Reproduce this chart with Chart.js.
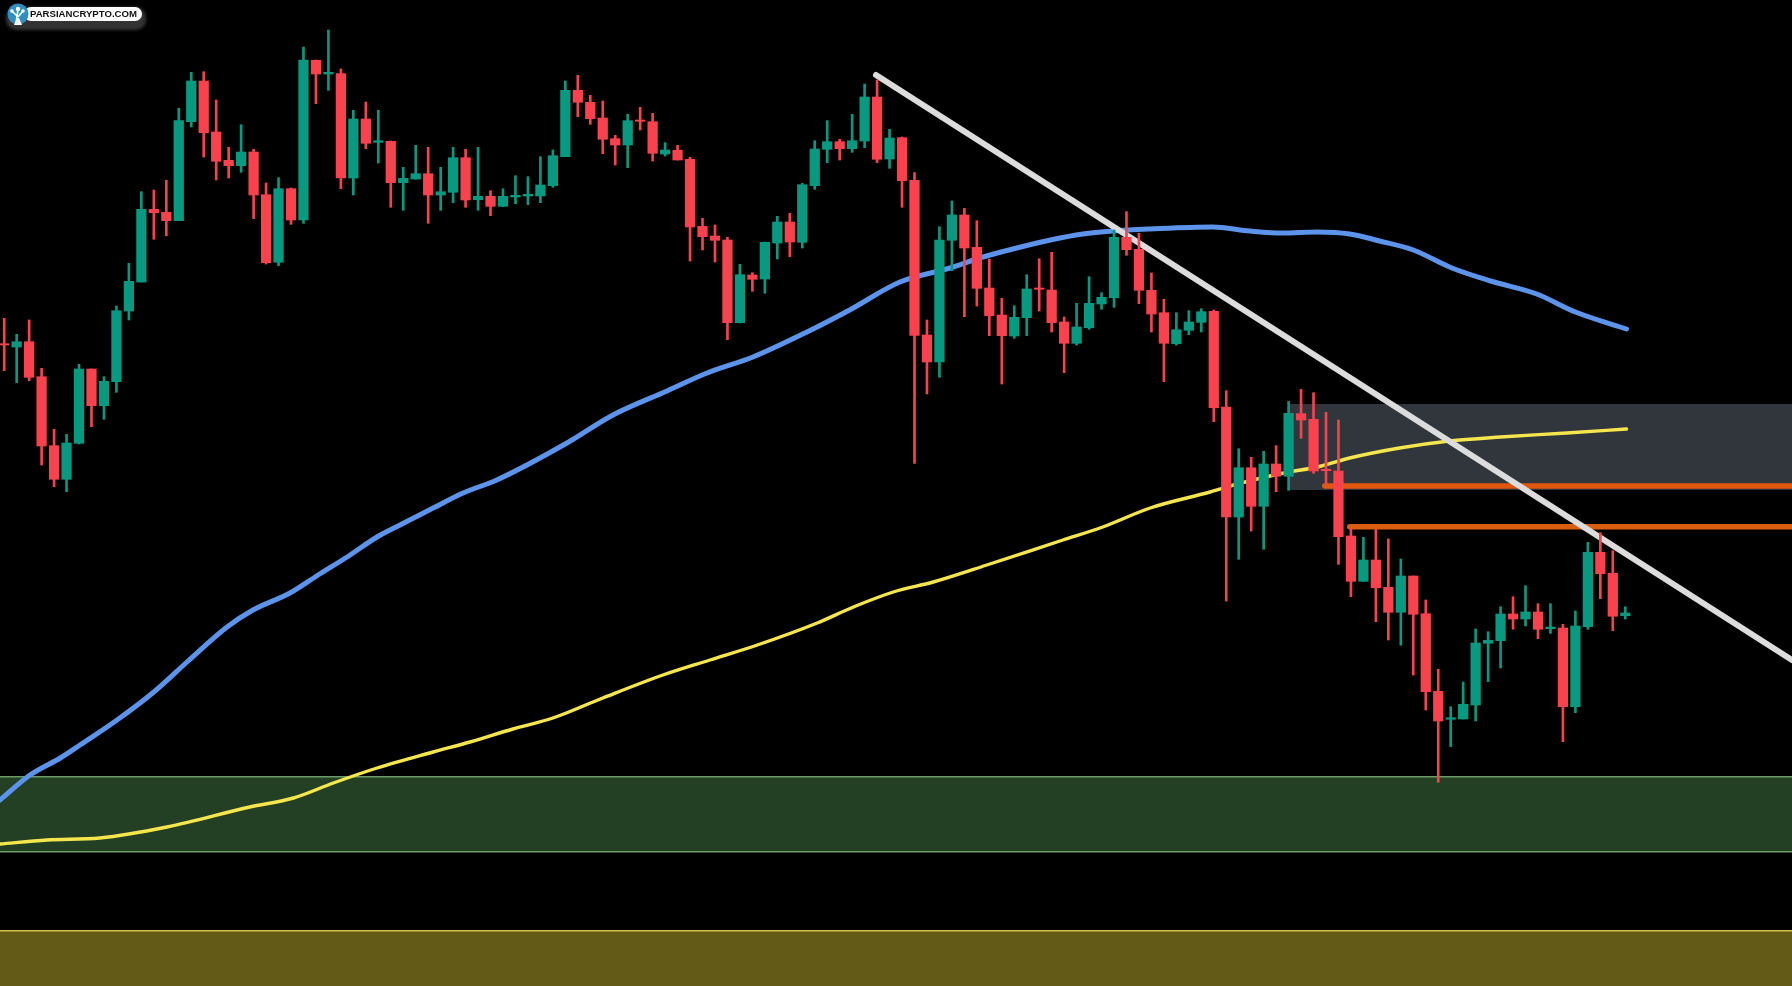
<!DOCTYPE html>
<html>
<head>
<meta charset="utf-8">
<title>Chart</title>
<script src="https://cdn.jsdelivr.net/npm/chart.js@4"></script>
<style>
    html, body { margin: 0; padding: 0; background: #000; overflow: hidden; }
    #wrap { position: relative; width: 1792px; height: 986px; }
    #chart { filter: blur(0.4px); }
    #logo { position: absolute; left: 4px; top: 1px; width: 142px; height: 30px; }
    #logo .shadow { position: absolute; left: 2px; top: 6px; width: 140px; height: 23px; border-radius: 10px; background: #333; filter: blur(1.5px); }
    #logo .pill { position: absolute; left: 20px; top: 6px; width: 118px; height: 14px; border-radius: 7px; background: #fff; color: #111;
        font: 700 9.6px/14px "Liberation Sans", sans-serif; text-indent: 6px; white-space: nowrap; }
    #logo svg { position: absolute; left: 3px; top: 2px; }
</style>
</head>
<body>
<div id="wrap">
    <canvas id="chart" width="1792" height="986"></canvas>
    <div id="logo">
        <div class="shadow"></div>
        <div class="pill">PARSIANCRYPTO.COM</div>
        <svg width="24" height="24" viewBox="0 0 24 24">
            <circle cx="11" cy="11" r="10.5" fill="#2f8fc4"/>
            <path d="M9 21 L10 13 L5 8 M10 13 L11 7 M11 14 L16 8" stroke="#fff" stroke-width="1.6" fill="none"/>
            <path d="M7 22 L15 22 L12 15 L10 15 Z" fill="#fff"/>
            <circle cx="5" cy="8" r="1.8" fill="#fff"/><circle cx="11" cy="6" r="2.2" fill="#fff"/><circle cx="16" cy="8" r="1.8" fill="#fff"/>
        </svg>
    </div>
</div>
<script>
// candle values, one entry per bar (no price axis is shown, units are arbitrary)
const opens = [642.3,639,644.3,609.3,540.3,506.7,542.7,617,580.3,604.3,675,704,776.7,773.7,765.3,864.3,905,854,825.7,820.3,
    834,791.3,723.7,797.3,766,925.7,912,912.3,808,867,843.7,844.7,803.3,807,812.3,791,793.7,828.3,786.3,789.7,
    779.7,789,790,790,800.3,829.3,895.7,883.7,868,847.3,841,866,864.3,832,835.7,826.7,759.7,750,746,663.3,
    711,707,743,764,743.7,800.3,836.7,844.3,837.3,845,889,827,848.3,805.7,651,624,745.7,771,738.7,698,
    671,650,668.3,698,696,664,642.7,658.3,682,688.3,748.7,736.7,695.7,673.3,642.3,655.7,663.7,674.7,579,469,
    518.3,479.7,522,509.7,572.3,566.7,516.7,515,450,404.7,426,398.7,373.7,410,372.3,294.7,266.7,267,281,342.7,
    345.3,372,367,374,357.3,358,279.3,359.3,433.7,412.7,370.3];
const highs = [667.7,651.7,666,617.7,556.7,551.7,621.7,617,609.3,680,722.7,794.3,796,805.7,877.7,913.7,914.3,886,838.7,861.3,
    836.7,803,808.3,798,939,926,956,917,875.7,884,875.7,845,818.7,840.7,838.7,818.7,838.7,836.7,838.7,795.3,
    797.3,810.3,809.3,829.3,836,905,910.7,890.7,885,850.7,871.7,878.7,872.7,843.3,840.7,828.7,767.7,761,748.7,721.7,
    713.3,744,769.7,772.7,802.7,845.3,865.3,846.7,871.7,902,906,856.7,849,813.3,666,759.3,785,777.7,765.3,727,
    687.7,680.3,711.3,727.3,733.7,669,682.7,709.3,693.3,756,774.3,752.7,713,686.7,673.3,675.3,677.3,676,595.3,537.3,
    528.7,534.7,540.3,584.7,596.7,593.3,573.7,566,457.7,448.7,456.7,447,427,410,386,316.7,279.3,304,357,354.3,
    379.3,389.3,400.3,382.3,382.3,361.7,375,443.7,453.3,435.3,379.3];
const lows = [615.3,603.3,605.3,521,499.3,494.3,542,559.3,566.7,593.7,666,704,746.7,750.3,765.3,859,829,806,808,813.7,
    767.3,722,720.3,761.7,762.7,882.3,895.7,797.3,791,837.3,823,778.7,775.7,806.7,762.7,775.7,783.3,778.7,775.7,770.3,
    779.3,782.3,781.3,783.3,798.7,829.3,869.3,861.7,832.3,821,818.3,856,825,830,826,725,736,724,646.3,663,
    694.7,692.7,727,729.3,738,796.7,823.3,826,833.7,838.3,823.3,817.7,778.7,522.7,592,608.7,715.3,669.3,680,650.3,
    602,647.7,650.3,675,654,613.3,641,656.7,676.7,678.7,730.7,682.3,654,604.3,641,651.3,654,564.3,385,426.7,
    455,436.7,494.3,495.7,547.7,512.7,501,421.7,389.3,404.7,364.3,346,340.7,311,276,203.7,239.3,267,265,304.3,
    318,356.7,360,347.3,352.7,244.3,273.3,356.7,387.3,355.3,367];
const closes = [641,644.3,608.7,540,506.7,543,617,580.3,604.7,675.3,704.7,776.7,773.3,765.3,865.3,905,853.3,824.7,820.3,834,
    791,723.3,797.3,766,926,912,913.7,808,867,842.7,845.3,803.3,807.7,812.3,791,794.3,828.3,786,789.7,779.7,
    789.7,790.7,791.7,801,830.3,895.7,883.7,867.3,846.7,841,865.3,864.7,832.7,836,826,759,749.3,745.7,663.3,711.3,
    706.7,743.7,764,744,801.3,837,844.3,837.3,845.3,889,826.7,848,805.3,650.7,624,746,771,738,697.7,670.3,
    650.3,668.7,697,696.7,663.3,642.7,659,682.7,688.7,748.7,736.3,695.7,672,642.7,656.3,664,674.3,578.3,469,518.3,
    479.7,522,509.7,572.7,566,515,515.3,449.3,404.7,426,398.3,373.7,410,371.7,294.3,265,268.3,281.7,343,345.7,
    372,367,374,356.7,359,279.3,360,433.7,412.3,369.7,373];

// moving averages, sampled along the bar index
const blueIdx = [-0.34,2.07,4.5,6.08,9.05,12,14.66,17.87,19.95,22.92,25.3,27.5,29.9,31.74,34.4,36.8,39.5,45.13,48.82,53.15,56.36,60.05,64.38,67.8,71.83,75.85,78.5,81.2,83.9,86.5,88.9,91.9,96.9,99.9,102.5,105.3,107.9,110.3,113,116.1,119.2,122.9,126,130.1];
const blueVals = [186,211,228,241,266,294,324,359,376,393,412,429,449,461,478,493,506,543,571,595,613,629,654,676,704,718,729,738,746,752,755,757,759,755,753,754,752,745,736,718,705,692,674,657];
const yellowIdx = [-0.34,3.43,7.68,13.05,19.7,23.2,26.4,29.9,34.4,37.35,40.8,44,48,52.83,56.6,60.4,65.2,68.1,71.3,74.5,78.8,84.9,88.1,91.9,96.7,98.6,102.6,105.3,107.9,111.9,115.9,120,125.3,130.1];
const yellowVals = [142,146,148,159,179,188,203,218,234,244,257,268,288,311,326,341,363,379,394,404,421,446,459,478,494,501,513,519,528,538,545,549,553,557];

// drawn levels and trend line
const trendIdx = [69.91, 143.37];
const trendVals = [911, 326];
const orangeLevels = [500, 459.3];
const orangeStarts = [105.9, 107.9];
const grayZone = [582, 496];
const grayStart = 103.04;
const greenZone = [209.3, 134.3];
const goldZoneTop = 55.3;

const xMin = -0.337, xMax = 143.37, yMin = 0, yMax = 986;
const UP = '#089981', DOWN = '#f9424e';

function pairs(xs, ys) {
    return xs.map(function(x, i) { return { x: x, y: ys[i] }; });
}
function hline(from, to, value) {
    return [{ x: from, y: value }, { x: to, y: value }];
}
function flat(extra) {
    return Object.assign({ type: 'line', pointRadius: 0, borderWidth: 0, fill: false }, extra);
}

const barColors = opens.map(function(o, i) { return closes[i] >= o ? UP : DOWN; });

const datasets = [
    // zones
    flat({ data: hline(grayStart, xMax, grayZone[0]), fill: { value: grayZone[1] }, backgroundColor: '#30363c', order: 90 }),
    flat({ data: hline(xMin, xMax, greenZone[0]), fill: { value: greenZone[1] }, backgroundColor: '#233f24', borderColor: '#6d9b66', borderWidth: 1.5, order: 90 }),
    flat({ data: hline(xMin, xMax, greenZone[1]), borderColor: '#6d9b66', borderWidth: 1.5, order: 89 }),
    flat({ data: hline(xMin, xMax, goldZoneTop), fill: { value: yMin }, backgroundColor: '#635a17', borderColor: '#d4c24a', borderWidth: 1.5, order: 90 }),
    // averages
    flat({ data: pairs(blueIdx, blueVals), borderColor: '#5b94ea', borderWidth: 5, borderCapStyle: 'round', cubicInterpolationMode: 'monotone', order: 60 }),
    flat({ data: pairs(yellowIdx, yellowVals), borderColor: '#f5e64e', borderWidth: 3.4, borderCapStyle: 'round', cubicInterpolationMode: 'monotone', order: 59 }),
    // levels and trend line
    flat({ data: hline(orangeStarts[0], xMax, orangeLevels[0]), borderColor: '#e2570f', borderWidth: 5.5, borderCapStyle: 'round', order: 50 }),
    flat({ data: hline(orangeStarts[1], xMax, orangeLevels[1]), borderColor: '#d95e12', borderWidth: 5.5, borderCapStyle: 'round', order: 50 }),
    flat({ data: pairs(trendIdx, trendVals), borderColor: '#dcdcdc', borderWidth: 6, borderCapStyle: 'round', order: 40 }),
    // candles: wick and body as floating bars
    {
        type: 'bar',
        data: opens.map(function(o, i) { return { x: i, y: [lows[i], highs[i]] }; }),
        backgroundColor: barColors,
        barThickness: 2,
        grouped: false,
        order: 11
    },
    {
        type: 'bar',
        data: opens.map(function(o, i) { return { x: i, y: [o, closes[i]] }; }),
        backgroundColor: barColors,
        barThickness: 9.6,
        grouped: false,
        order: 10
    }
];

new Chart(document.getElementById('chart'), {
    data: { datasets: datasets },
    options: {
        responsive: false,
        animation: false,
        devicePixelRatio: 1,
        layout: { padding: 0 },
        plugins: { legend: { display: false }, tooltip: { enabled: false } },
        scales: {
            x: { type: 'linear', min: xMin, max: xMax, offset: false, display: false },
            y: { type: 'linear', min: yMin, max: yMax, display: false }
        }
    }
});
</script>
</body>
</html>
